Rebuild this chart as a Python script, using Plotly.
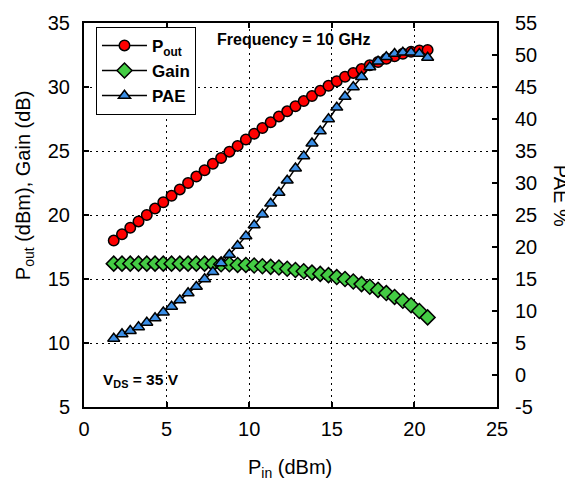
import plotly.graph_objects as go

pin = [1.8, 2.3, 2.8, 3.3, 3.8, 4.3, 4.8, 5.3, 5.8, 6.3, 6.8, 7.3, 7.8, 8.3, 8.8, 9.3,
       9.8, 10.3, 10.8, 11.3, 11.8, 12.3, 12.8, 13.3, 13.8, 14.3, 14.8, 15.3, 15.8,
       16.3, 16.8, 17.3, 17.8, 18.3, 18.8, 19.3, 19.8, 20.3, 20.8]

pout = [18.0, 18.5, 19.0, 19.5, 20.0, 20.5, 21.0, 21.5, 22.0, 22.5, 23.0, 23.5, 24.0,
        24.45, 24.95, 25.4, 25.9, 26.35, 26.8, 27.25, 27.7, 28.1, 28.5, 28.9, 29.3,
        29.7, 30.1, 30.45, 30.8, 31.1, 31.4, 31.7, 31.95, 32.2, 32.4, 32.6, 32.75,
        32.85, 32.9]

gain = [16.2, 16.2, 16.2, 16.2, 16.2, 16.2, 16.2, 16.2, 16.2, 16.2, 16.2, 16.2, 16.2,
        16.15, 16.15, 16.1, 16.1, 16.05, 16.0, 15.95, 15.9, 15.8, 15.7, 15.6, 15.5,
        15.4, 15.3, 15.15, 15.0, 14.8, 14.6, 14.4, 14.15, 13.9, 13.6, 13.3, 12.95,
        12.5, 12.0]

pae = [5.7, 6.4, 6.9, 7.5, 8.2, 8.9, 9.8, 10.7, 11.7, 12.8, 13.8, 15.0, 16.1, 17.5,
       18.8, 20.2, 21.7, 23.4, 25.1, 26.8, 28.5, 30.4, 32.3, 34.2, 36.2, 38.1, 40.0,
       41.8, 43.5, 45.0, 46.6, 48.1, 49.0, 49.7, 50.2, 50.4, 50.4, 50.2, 49.6]

x_ticks = [0, 5, 10, 15, 20, 25]
left_ticks = [5, 10, 15, 20, 25, 30, 35]
right_ticks = [-5, 0, 5, 10, 15, 20, 25, 30, 35, 40, 45, 50, 55]

FONT = "Liberation Sans, Arial, sans-serif"

fig = go.Figure()
fig.add_trace(go.Scatter(
    x=pin, y=pout, name="P<sub>out</sub>", mode="lines+markers",
    line=dict(color="black", width=1.5),
    marker=dict(symbol="circle", size=10.5, color="#ff0000", line=dict(color="black", width=1.5)),
))
fig.add_trace(go.Scatter(
    x=pin, y=gain, name="Gain", mode="lines+markers",
    line=dict(color="black", width=1.5),
    marker=dict(symbol="diamond", size=11.5, color="#44cc44", line=dict(color="black", width=1.5)),
))
fig.add_trace(go.Scatter(
    x=pin, y=pae, name="PAE", mode="lines+markers", yaxis="y2",
    line=dict(color="black", width=1.5),
    marker=dict(symbol="triangle-up", size=10.5, color="#3a8ee6", line=dict(color="black", width=1.5)),
))

fig.update_layout(
    width=565, height=475,
    margin=dict(l=76, r=76, t=15, b=76),
    paper_bgcolor="white", plot_bgcolor="white",
    font=dict(family=FONT, color="black", size=20),
    showlegend=True,
    legend=dict(
        x=0.029, y=0.99, xanchor="left", yanchor="top",
        bgcolor="white", bordercolor="black", borderwidth=1,
        font=dict(family=FONT, size=17, weight="bold"),
        tracegroupgap=0, itemwidth=45,
    ),
    xaxis=dict(
        range=[0, 25], tickvals=x_ticks, ticktext=[str(v) for v in x_ticks],
        showline=True, linecolor="black", linewidth=2, mirror="ticks",
        ticks="inside", ticklen=5, tickwidth=1.5, tickcolor="black",
        showgrid=True, gridcolor="black", gridwidth=1, griddash="2px,4px",
        zeroline=False, ticklabelstandoff=3, automargin=False,
        tickfont=dict(family=FONT, size=20),
    ),
    yaxis=dict(
        range=[5, 35], tickvals=left_ticks, ticktext=[str(v) for v in left_ticks],
        showline=True, linecolor="black", linewidth=2, mirror=True,
        ticks="inside", ticklen=5, tickwidth=1.5, tickcolor="black",
        showgrid=True, gridcolor="black", gridwidth=1, griddash="2px,4px",
        zeroline=False, ticklabelstandoff=8, automargin=False,
        tickfont=dict(family=FONT, size=20),
    ),
    yaxis2=dict(
        range=[-5, 55], tickvals=right_ticks, ticktext=[str(v) for v in right_ticks],
        overlaying="y", side="right",
        showline=True, linecolor="black", linewidth=2,
        ticks="inside", ticklen=5, tickwidth=1.5, tickcolor="black",
        showgrid=False, zeroline=False, ticklabelstandoff=12, automargin=False,
        tickfont=dict(family=FONT, size=20),
    ),
    annotations=[
        dict(text="P<sub>out</sub> (dBm), Gain (dB)", xref="paper", yref="paper",
             x=-0.145, y=0.578, textangle=-90, showarrow=False,
             xanchor="center", yanchor="middle", font=dict(family=FONT, size=20)),
        dict(text="PAE %", xref="paper", yref="paper",
             x=1.155, y=0.55, textangle=90, showarrow=False,
             xanchor="center", yanchor="middle", font=dict(family=FONT, size=20)),
        dict(text="P<sub>in</sub> (dBm)", xref="paper", yref="paper",
             x=0.499, y=-0.16, showarrow=False,
             xanchor="center", yanchor="middle", font=dict(family=FONT, size=20)),
        dict(text="Frequency = 10 GHz", xref="paper", yref="paper",
             x=0.508, y=0.958, showarrow=False,
             xanchor="center", yanchor="middle", font=dict(family=FONT, size=16, weight="bold")),
        dict(text="V<sub>DS</sub> = 35 V", xref="paper", yref="paper",
             x=0.138, y=0.068, showarrow=False,
             xanchor="center", yanchor="middle", font=dict(family=FONT, size=15.5, weight="bold")),
    ],
)

fig.write_html("out.html")
